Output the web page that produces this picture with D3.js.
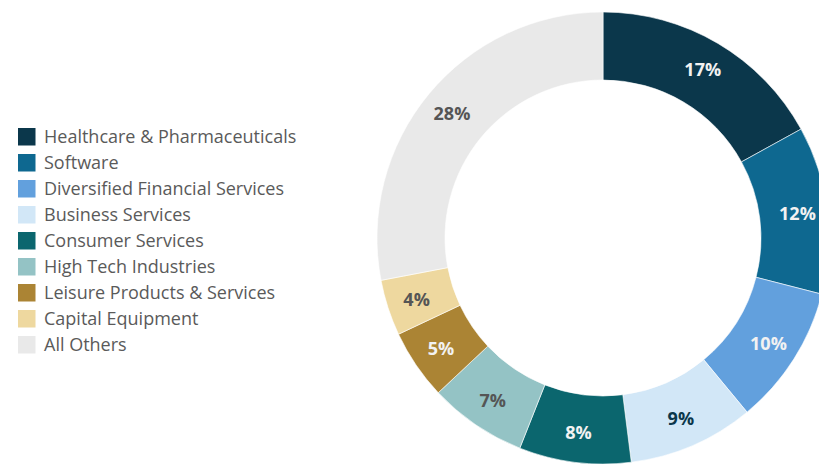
<!DOCTYPE html>
<html>
<head>
<meta charset="utf-8">
<script src="https://cdn.jsdelivr.net/npm/d3@7"></script>
<style>
  html, body { margin: 0; padding: 0; background: #fff; }
  svg { display: block; }
</style>
</head>
<body>
<svg id="chart" width="819" height="466"></svg>
<script>
// Portfolio composition by industry (percent)
const categories = [
  "Healthcare & Pharmaceuticals",
  "Software",
  "Diversified Financial Services",
  "Business Services",
  "Consumer Services",
  "High Tech Industries",
  "Leisure Products & Services",
  "Capital Equipment",
  "All Others"
];
const shares = [17, 12, 10, 9, 8, 7, 5, 4, 28];
const colors = ["#0b374b", "#0e6890", "#62a0dd", "#d2e7f7", "#0b666e", "#94c3c5", "#ab8434", "#eed89f", "#e9e9e9"];
const labelColors = ["#f2f2f2", "#f2f2f2", "#f2f2f2", "#0b374b", "#f2f2f2", "#555555", "#f2f2f2", "#555555", "#555555"];

const data = categories.map((c, i) => ({ name: c, value: shares[i], color: colors[i], labelColor: labelColors[i] }));

const svg = d3.select("#chart");

// Donut
const cx = 603, cy = 238, outerR = 226, innerR = 158, labelR = 196;
const pie = d3.pie().value(d => d.value).sort(null);
const arc = d3.arc().innerRadius(innerR).outerRadius(outerR);
const labelArc = d3.arc().innerRadius(labelR).outerRadius(labelR);

const g = svg.append("g").attr("transform", `translate(${cx},${cy})`);
const arcs = pie(data);

g.selectAll("path.slice")
  .data(arcs)
  .join("path")
  .attr("class", "slice")
  .attr("d", arc)
  .attr("fill", d => d.data.color)
  .attr("stroke", "#ffffff")
  .attr("stroke-width", 0.6);

g.selectAll("text.pct")
  .data(arcs)
  .join("text")
  .attr("class", "pct")
  .attr("transform", d => `translate(${labelArc.centroid(d)})`)
  .attr("text-anchor", "middle")
  .attr("dominant-baseline", "central")
  .attr("font-family", "'Open Sans', Lato, sans-serif")
  .attr("font-weight", 700)
  .attr("font-size", 18)
  .attr("fill", d => d.data.labelColor)
  .text(d => d.data.value + "%");

// Legend
const legend = svg.append("g").attr("transform", "translate(18,128)");
const rowH = 26;
const rows = legend.selectAll("g.row")
  .data(data)
  .join("g")
  .attr("class", "row")
  .attr("transform", (d, i) => `translate(0,${i * rowH})`);

rows.append("rect")
  .attr("width", 17.5)
  .attr("height", 17.5)
  .attr("fill", d => d.color);

rows.append("text")
  .attr("x", 26)
  .attr("y", 14.7)
  .attr("font-family", "'Open Sans', 'Noto Sans', sans-serif")
  .attr("font-size", 18)
  .attr("fill", "#5a5a5a")
  .text(d => d.name);
</script>
</body>
</html>
